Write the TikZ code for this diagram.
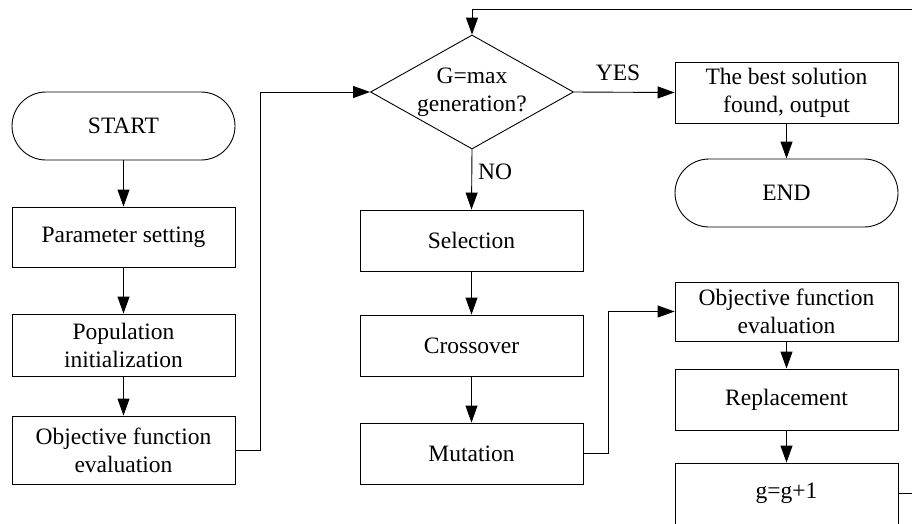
\documentclass[tikz,border=0pt]{standalone}
\usepackage{fontspec}
\setmainfont{Liberation Serif}
\usetikzlibrary{shapes.geometric,arrows.meta}
\begin{document}
\begin{tikzpicture}[x=1pt,y=-1pt,
  every node/.style={font=\fontsize{23.5}{28}\selectfont, text=black},
  box/.style={draw, line width=0.9pt, rectangle, minimum width=223pt, inner sep=0pt, align=center},
  term/.style={draw, line width=0.9pt, rectangle, minimum width=223pt, minimum height=68pt, rounded corners=34pt, inner sep=0pt, align=center},
  conn/.style={draw, line width=0.9pt, -{Triangle[length=17pt,width=12pt]}},
  plain/.style={draw, line width=0.9pt}
]
\useasboundingbox (0,0) rectangle (912,523);
\clip (0,0) rectangle (912,523);
% left column
\node[term] (start) at (123.5,126) {START};
\node[box, minimum height=60pt] (param) at (123.5,237) {Parameter setting};
\node[box, minimum height=62pt] (pop) at (123.5,345) {Population\\initialization};
\node[box, minimum height=68pt] (obj1) at (123.5,450) {Objective function\\evaluation};
% middle column
\node[draw, line width=0.9pt, diamond, minimum width=203pt, minimum height=114pt, inner sep=0pt] (dec) at (472,92) {};
\node (dectext) at (472,92.5) [align=center] {G=max\\generation?};
\node[box, minimum height=61pt] (sel) at (471.5,240.5) {Selection};
\node[box, minimum height=61pt] (cross) at (471.5,345.5) {Crossover};
\node[box, minimum height=61pt] (mut) at (471.5,453.5) {Mutation};
% right column
\node[box, minimum height=61pt] (best) at (786.5,92.5) {The best solution\\found, output};
\node[term] (end) at (786.5,193) {END};
\node[box, minimum height=59pt] (obj2) at (786.5,311.5) {Objective function\\evaluation};
\node[box, minimum height=61pt] (repl) at (786.5,399.5) {Replacement};
\node[box, minimum height=61pt] (gg) at (786.5,493.5) {g=g+1};
% labels
\node (yes) at (618,73) {YES};
\node (no) at (495,172) {NO};
% helper coordinates
\coordinate (c1) at (260,450);
\coordinate (c2) at (260,92);
\coordinate (m1) at (608,453.5);
\coordinate (m2) at (608,311.5);
\coordinate (l1) at (930,493);
\coordinate (l2) at (930,9);
\coordinate (l3) at (472,9);
% connectors
\draw[conn] (start) -- (param);
\draw[conn] (param) -- (pop);
\draw[conn] (pop) -- (obj1);
\draw[conn] (obj1.east) -- (c1) -- (c2) -- (dec.west);
\draw[conn] (dec.east) -- (best.west);
\draw[conn] (best) -- (end);
\draw[conn] (dec.south) -- (sel.north);
\draw[conn] (sel) -- (cross);
\draw[conn] (cross) -- (mut);
\draw[conn] (mut.east) -- (m1) -- (m2) -- (obj2.west);
\draw[conn] (obj2) -- (repl);
\draw[conn] (repl) -- (gg);
\draw[conn] (gg.east |- l1) -- (l1) -- (l2) -- (l3) -- (dec.north);
\end{tikzpicture}
\end{document}
